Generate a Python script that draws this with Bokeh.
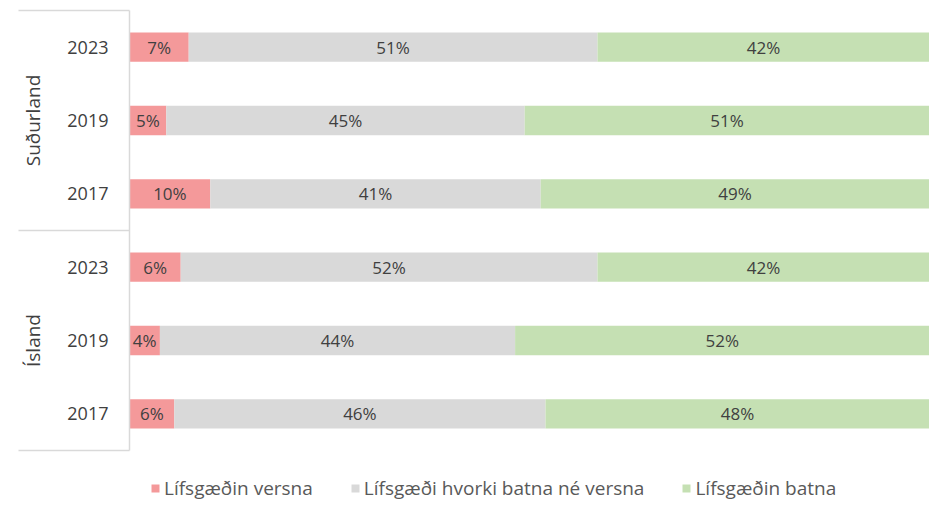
from bokeh.plotting import figure
from bokeh.models import ColumnDataSource, Range1d, Legend, LegendItem
from bokeh.core.properties import value
from bokeh.embed import file_html
from bokeh.resources import INLINE

# ---- data ----
groups = ["Suðurland", "Ísland"]
years = ["2023", "2019", "2017"]
series = ["Lífsgæðin versna", "Lífsgæði hvorki batna né versna", "Lífsgæðin batna"]
versna = [7.4, 4.6, 10.1, 6.4, 3.8, 5.6]
hvorki = [51.1, 44.8, 41.3, 52.1, 44.4, 46.4]
batna = [41.5, 50.6, 48.6, 41.5, 51.8, 48.0]
colors = ["#F4999A", "#D9D9D9", "#C5E0B3"]

FONT = "Open Sans"
TXT = "#404040"
LINE = "#D9D9D9"

n = len(versna)
ys = [n - 0.5 - i for i in range(n)]  # top row first

src = ColumnDataSource(dict(y=ys, versna=versna, hvorki=hvorki, batna=batna))

p = figure(width=929, height=505, output_backend="svg", toolbar_location=None,
           x_range=Range1d(-16.125, 100), y_range=Range1d(-0.75, 6.1364),
           min_border=0)
p.axis.visible = False
p.grid.visible = False
p.outline_line_color = None
p.background_fill_color = "white"
p.border_fill_color = "white"

rs = p.hbar_stack(["versna", "hvorki", "batna"], y="y", height=0.4,
                  color=colors, line_color=None, source=src)

# segment labels
lx, ly, lt = [], [], []
for i in range(n):
    start = 0.0
    for vals in (versna, hvorki, batna):
        v = vals[i]
        lx.append(start + v / 2)
        ly.append(ys[i])
        lt.append(f"{int(v + 0.5)}%")
        start += v
p.text(x=lx, y=ly, text=lt, text_align="center", text_baseline="middle",
       text_font=value(FONT), text_font_size="17px", text_color=TXT)

# year labels
yl = [years[i % len(years)] for i in range(n)]
p.text(x=[-2.625] * n, y=ys, text=yl, text_align="right", text_baseline="middle",
       text_font=value(FONT), text_font_size="18px", text_color=TXT)

# group labels (rotated)
gy = [n - len(years) * (g + 0.5) for g in range(len(groups))]
p.text(x=[-12.06] * len(groups), y=gy, text=groups, angle=1.5708,
       text_align="center", text_baseline="middle",
       text_font=value(FONT), text_font_size="19px", text_color=TXT)

# table lines
hy = [n - len(years) * g for g in range(len(groups) + 1)]
p.segment(x0=[-13.875] * len(hy), y0=hy, x1=[0] * len(hy), y1=hy,
          line_color=LINE, line_width=1.5)
p.segment(x0=[0], y0=[0], x1=[0], y1=[n], line_color=LINE, line_width=1.5)

legend = Legend(items=[LegendItem(label=s, renderers=[r]) for s, r in zip(series, rs)],
                orientation="horizontal", location=(150, 4),
                label_text_font=FONT, label_text_font_size="19px",
                label_text_color="#595959", glyph_width=10, glyph_height=10,
                label_standoff=4, spacing=37, padding=0, margin=0,
                border_line_alpha=0, background_fill_alpha=0)
p.add_layout(legend)

open("out.html", "w").write(file_html(p, INLINE))
